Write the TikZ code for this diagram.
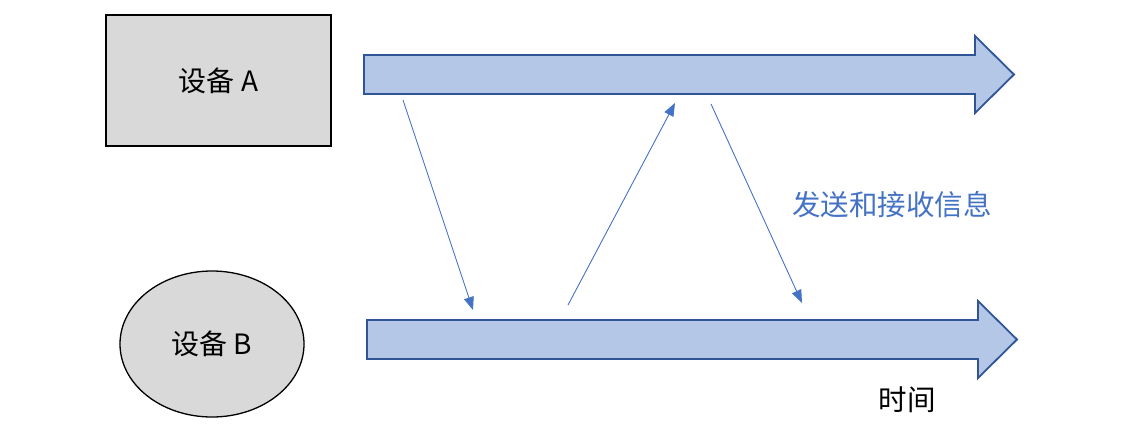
\documentclass[tikz,border=0pt]{standalone}
\usepackage{fontspec}
\newfontfamily\cjk{Noto Sans CJK SC}
\usetikzlibrary{arrows.meta,shapes.geometric}
\definecolor{msgblue}{HTML}{4472C4}
\definecolor{bigfill}{HTML}{B4C7E7}
\definecolor{bigline}{HTML}{2F5597}
\definecolor{devfill}{HTML}{D9D9D9}
\tikzset{
  device/.style={draw=black,fill=devfill,line width=1.3pt,inner sep=0pt,font=\cjk\fontsize{28}{32}\selectfont},
  bigarrow/.style={draw=bigline,fill=bigfill,line width=1.8pt,line join=miter},
  msg/.style={draw=msgblue,line width=0.9pt,-{Triangle[length=13pt,width=10pt]}},
  lbl/.style={font=\cjk\fontsize{28.5}{32}\selectfont,inner sep=0pt}
}
\begin{document}
\begin{tikzpicture}[x=1pt,y=-1pt]
\useasboundingbox (0,0) rectangle (1145,432);
\node[device,rectangle,minimum width=225pt,minimum height=131pt] (A) at (218.5,80.5) {设备 A};
\node[device,ellipse,minimum width=184pt,minimum height=146pt] (B) at (212,344) {设备 B};
% top timeline
\draw[bigarrow] (364,55) -- (975,55) -- (975,36) -- (1014,74.5) -- (975,113) -- (975,94) -- (364,94) -- cycle;
% bottom timeline
\draw[bigarrow] (367,320) -- (978,320) -- (978,301) -- (1017,339.5) -- (978,378) -- (978,359) -- (367,359) -- cycle;
\coordinate (m1s) at (403,100);
\coordinate (m1e) at (473,310);
\coordinate (m2s) at (568,305);
\coordinate (m2e) at (675,103);
\coordinate (m3s) at (711,104);
\coordinate (m3e) at (802,303);
\draw[msg] (m1s) -- (m1e);
\draw[msg] (m2s) -- (m2e);
\draw[msg] (m3s) -- (m3e);
\node[lbl,text=msgblue] (send) at (892,205) {发送和接收信息};
\node[lbl,text=black] (time) at (907,400) {时间};
\end{tikzpicture}
\end{document}
